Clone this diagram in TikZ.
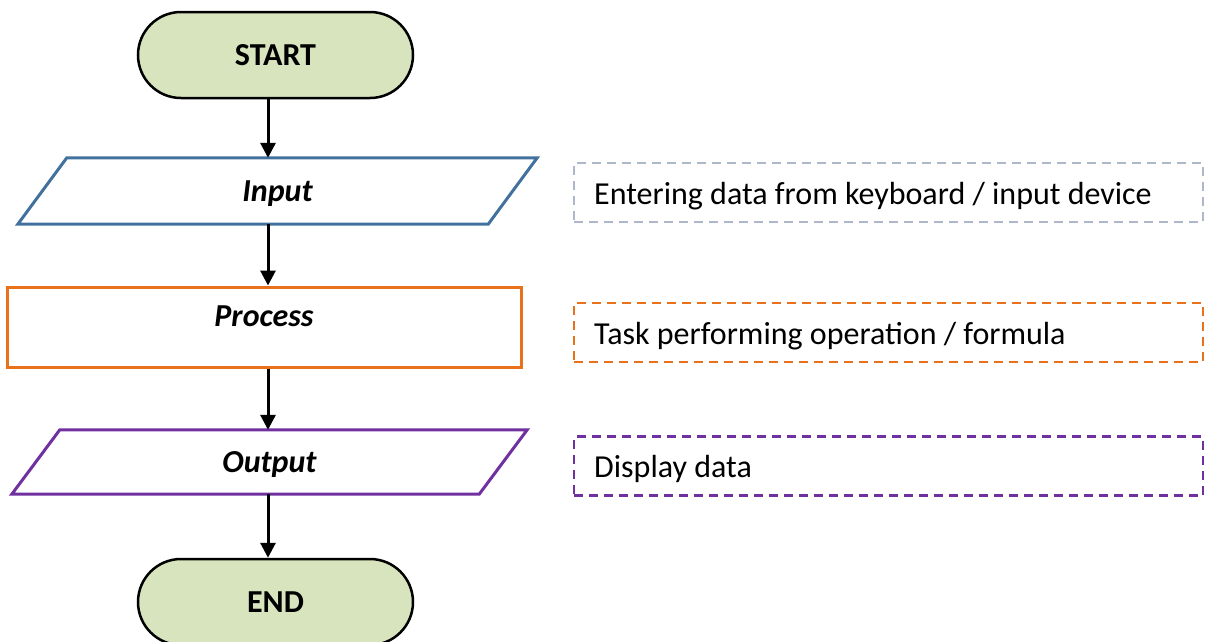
\documentclass[tikz,border=0pt]{standalone}
\usepackage{fontspec}
\setmainfont{Carlito}
\usetikzlibrary{arrows.meta}
\definecolor{termfill}{HTML}{D8E4BE}
\definecolor{inblue}{HTML}{41719C}
\definecolor{procorange}{HTML}{E8711A}
\definecolor{outpurple}{HTML}{7030A0}
\definecolor{noteblue}{HTML}{ADB9CA}
\tikzset{
  terminal/.style={draw=black, line width=2.5pt, fill=termfill, rounded corners=43pt,
    minimum width=275pt, minimum height=86pt, inner sep=0pt,
    font=\fontsize{32}{38}\selectfont\bfseries},
  iobox/.style={draw=none, inner sep=0pt, text depth=0pt,
    font=\fontsize{32}{38}\selectfont\bfseries\itshape},
  ioframe/.style={line width=3pt, line join=miter},
  procbox/.style={draw=procorange, line width=3pt, minimum width=514pt,
    minimum height=80pt, inner sep=0pt},
  bigtext/.style={inner sep=0pt, text depth=0pt,
    font=\fontsize{32}{38}\selectfont\bfseries\itshape},
  noteframe/.style={line width=2.2pt, dash pattern=on 9pt off 6pt,
    minimum width=629pt, minimum height=59pt, inner sep=0pt},
  notetext/.style={font=\fontsize{32}{38}\selectfont, anchor=west, inner sep=0pt},
  flow/.style={line width=3pt, -{Triangle[width=15pt,length=15pt]}},
}
\begin{document}
\begin{tikzpicture}[x=1pt,y=-1pt]
\useasboundingbox (0,0) rectangle (1211,641);
\coordinate (ax) at (268,0);

% flowchart column
\node[terminal] (start) at (275.5,55) {START};

\node[iobox, minimum width=519pt, minimum height=66pt] (in) at (277.5,191) {Input};
\draw[ioframe, inblue] ([xshift=49pt]in.north west) -- (in.north east)
  -- ([xshift=-49pt]in.south east) -- (in.south west) -- cycle;

\node[procbox] (proc) at (264,327) {};
\node[bigtext] (proct) at (264,316) {Process};

\node[iobox, minimum width=515pt, minimum height=64pt] (out) at (269.5,462) {Output};
\draw[ioframe, outpurple] ([xshift=48pt]out.north west) -- (out.north east)
  -- ([xshift=-48pt]out.south east) -- (out.south west) -- cycle;

\node[terminal] (end) at (275.5,602) {END};

% connectors
\draw[flow] (start.south -| ax) -- (in.north -| ax);
\draw[flow] (in.south -| ax) -- (proc.north -| ax);
\draw[flow] (proc.south -| ax) -- (out.north -| ax);
\draw[flow] (out.south -| ax) -- (end.north -| ax);

% explanatory notes
\node[noteframe, draw=noteblue] (n1) at (888.5,192.5) {};
\node[notetext] (n1t) at (594,196) {Entering data from keyboard / input device};
\node[noteframe, draw=procorange] (n2) at (888.5,332.5) {};
\node[notetext] (n2t) at (594,336) {Task performing operation / formula};
\node[noteframe, draw=outpurple] (n3) at (888.5,466) {};
\node[notetext] (n3t) at (594,469) {Display data};
\end{tikzpicture}
\end{document}
